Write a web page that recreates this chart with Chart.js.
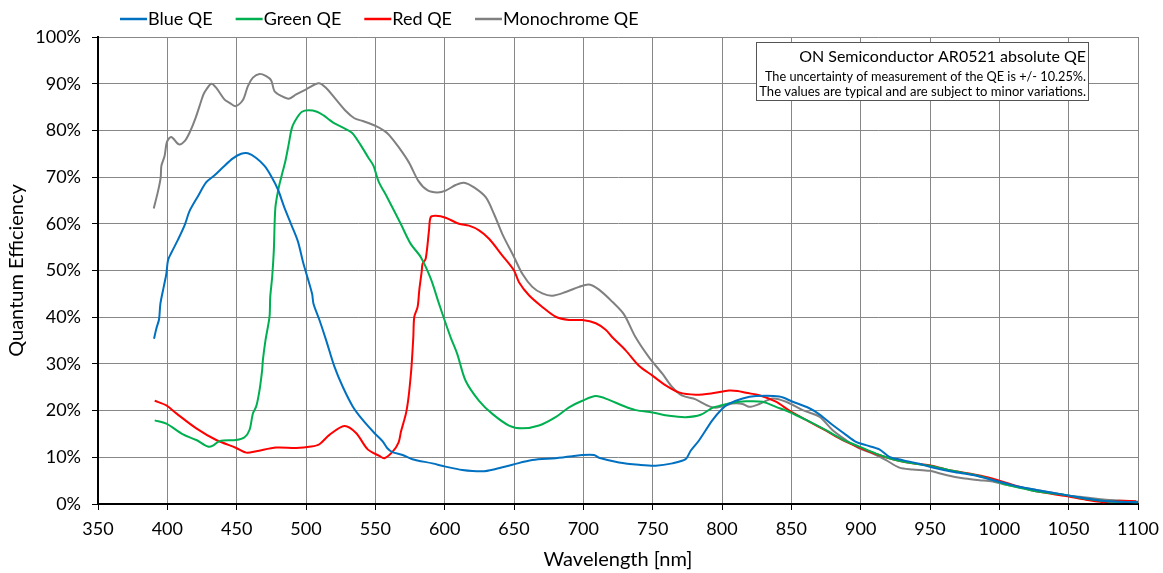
<!DOCTYPE html>
<html><head><meta charset="utf-8">
<script src="https://cdn.jsdelivr.net/npm/chart.js@4.4.1/dist/chart.umd.min.js"></script>
<style>html,body{margin:0;padding:0;background:#fff}#wrap{position:relative;width:1163px;height:573px}</style>
</head><body><div id="wrap"><canvas id="c" width="1163" height="573"></canvas></div>
<script>
const xTicks = [350,400,450,500,550,600,650,700,750,800,850,900,950,1000,1050,1100];
const seriesNames = ['Blue QE','Green QE','Red QE','Monochrome QE'];
const seriesColors = ['#0070C0','#00B050','#FF0000','#808080'];

const blueNm = [390.4,392.1,394,395,397.4,399.3,400.5,402.9,407.7,412.5,416,422.1,428.1,434.1,440.1,447.3,453.3,458.1,464.1,470.1,474.9,479.7,484.5,489.3,494.1,497.7,499.6,504.4,505.4,509.7,514.5,520.5,526.5,533.7,540.9,549.3,555.3,558.5,562.3,569.7,576.7,591.1,600.7,612.7,627.2,636.8,648.8,663.2,680,692,699.3,707.7,711.3,725.7,740.1,752.2,764.2,773.8,777.4,783.4,793,800.2,805.3,814.9,824.5,841.3,851,863,870.2,879.8,889.4,896.6,903.8,913.5,920.7,930.3,942.3,951.9,966.3,980.8,990.4,1002.4,1014.4,1028.8,1048.1,1062.5,1074.5,1086.5,1100];
const blueQE = [35.4,37.6,39.5,42.9,46.5,49.3,52.2,53.8,56.6,59.7,62.7,65.9,68.9,70.4,72.1,74,75,75.1,74.1,72.4,70.2,67.4,63.4,59.9,56.3,52,50,45,42.9,39.4,35.1,29.4,25.1,20.9,18,15.2,13.4,12,11.1,10.5,9.6,8.7,8,7.3,7,7.5,8.4,9.4,9.8,10.2,10.5,10.5,9.9,8.9,8.4,8.2,8.7,9.6,11.4,13.6,17.9,20.4,21.5,22.6,23.1,23,21.9,20.5,19.2,16.9,14.8,13.3,12.6,11.7,10.1,9.4,8.6,7.8,6.9,6.2,5.5,4.6,3.7,2.9,1.9,1.2,0.7,0.5,0.4];

const greenNm = [390.9,399.3,411.3,420.9,429.3,432.9,437.7,449.7,455.7,459.3,461.7,464.1,466.5,468.4,468.9,470.8,473.7,474.2,475.6,476.8,477.9,480.3,482.7,485.1,487.5,489.9,493.5,497.1,501.9,507.9,512.7,516.3,519.9,525.9,533.1,539.1,545.1,548.7,552.3,558.5,568.3,575.5,582.7,589.9,595.9,600.7,604.3,609.1,615.1,624.8,634.4,646.4,656,668,680,689.7,699.3,709,718.5,728.1,737.7,749.8,761.8,773.8,784.6,793,798,807.7,817.3,829.3,838.9,848.6,860.6,875,887,899,911.1,923.1,937.5,949.5,966.3,980.8,990.4,1002.4,1014.4,1028.8,1048.1,1062.5,1077,1100];
const greenQE = [17.9,17.2,14.9,13.7,12.3,12.5,13.5,13.7,14.3,15.9,19.4,20.9,24.4,28.7,30.8,35.1,40.1,44.3,48.6,54.3,63.4,67.7,70.6,73.4,77,80.6,82.7,84,84.3,84,83.2,82.4,81.6,80.7,79.5,77,74.1,72.4,69.1,65.7,60,55.7,52.9,48.3,42.9,38.7,35.7,32.1,26.4,22.1,19.3,16.8,16.2,16.8,18.6,20.7,22.1,23.1,22.3,21.1,20.1,19.6,18.9,18.6,19.1,20.6,21,21.7,22,21.9,20.8,19.7,18,15.8,13.8,12.3,10.8,9.6,8.7,8.2,7.1,6.3,5.6,4.4,3.5,2.6,1.9,1.1,0.6,0.4];

const redNm = [390.9,399.3,406.5,420.9,435.3,449.7,456.9,464.1,478.5,492.9,503.7,509.7,516.9,527.7,536.1,544.5,552.9,556.5,562.5,566.8,568.5,572.1,574,575.7,576.4,577.4,578.1,580.5,581.7,583.4,584.1,586.3,588.7,589.9,593.5,600.7,610.3,617.5,624.8,632,641.6,650,653.6,660.8,670.4,680,689.7,699.3,709,716.1,720.9,730.5,740.1,749.8,759.4,769,781,793,805,811.3,817.3,826.9,838.9,848.6,860.6,875,887,899,911.1,923.1,937.5,949.5,966.3,980.8,990.4,1000,1014.4,1028.8,1048.1,1062.5,1074.5,1086.5,1098.6];
const redQE = [22.1,21.1,19.4,16.2,13.7,12,11,11.3,12.1,12,12.3,12.8,14.8,16.7,15.2,11.7,10.3,9.8,11.2,13.2,15.5,19.4,23,28,30.8,35.8,40.1,42.2,45.8,49.7,51.5,52.5,58.6,61.4,61.7,61.3,60,59.6,58.6,56.8,53.2,50,47.5,44.7,42.2,40.1,39.4,39.4,38.7,37.3,35.7,32.9,29.6,27.5,25.4,23.9,23.4,23.7,24.3,24.2,23.8,23.3,21.9,20,18,15.7,13.7,12.1,10.7,9.6,8.7,8.3,7.1,6.4,5.8,5,3.7,2.6,1.7,0.9,0.4,0.7,0.6];

const monoNm = [390.2,393.3,395.2,395.7,398,399.8,402.9,408.4,412.5,416,420.4,425.2,426.9,431.7,435.3,441.3,444.9,449.2,454.5,458.1,461.7,466.5,471.3,474.9,477.3,482.1,487.6,492.9,500.1,509.2,514.5,521.7,528.9,534.9,540.9,550.5,556.5,560,567.1,574.3,581,587.5,594.7,600.7,607.9,613.9,621.2,629.6,635.6,641.6,650,656,663.2,670.4,677.6,687.3,696.9,704.1,711.3,720.9,729.3,737.7,747.4,757,764.2,771.4,781,789.4,795.4,807.7,814.9,819.7,826.9,836.5,846.2,858.2,870.2,879.8,889.4,899,908.7,918.3,927.9,937.5,949.5,961.5,973.6,985.6,995.2,1004.8,1014.4,1028.8,1048.1,1062.5,1077,1100];
const monoQE = [63.3,67,69.9,72.4,74.5,77.6,78.6,77,77.7,79.5,82.7,87,88.2,90,89.1,86.6,85.9,85.2,86.5,89.5,91.3,92.1,91.6,90.7,88.4,87.4,86.8,87.7,88.8,90.1,89.1,86.6,84.1,82.6,82,80.9,79.9,79,76.3,73.1,69.2,67.2,66.7,67.1,68.3,68.8,67.8,65.7,62.1,57.8,52.9,49.3,46.5,45.1,44.6,45.4,46.5,47,45.9,43.3,40.6,35.7,31.4,27.9,25,23.2,22.4,21.1,20.6,21.5,21.4,20.8,21.4,22.6,21.9,20.1,18.7,15.8,13.7,11.9,10.8,9.4,7.8,7.4,7.1,6.2,5.5,5.1,4.8,4.1,3.6,2.9,1.9,1.4,0.9,0.5];

const noteTitle = 'ON Semiconductor AR0521 absolute QE';
const noteLines = ['The uncertainty of measurement of the QE is +/- 10.25%.','The values are typical and are subject to minor variations.'];

function pts(xs, ys){ return xs.map((x,i)=>({x:x, y:ys[i]})); }
const allNm = [blueNm, greenNm, redNm, monoNm];
const allQE = [blueQE, greenQE, redQE, monoQE];

const FONT = 'Lato, "Open Sans", sans-serif';
Chart.defaults.font.family = FONT;
Chart.defaults.color = '#000';

function fitFont(ctx, text, target, base){
  ctx.font = base + 'px ' + FONT;
  const w = ctx.measureText(text).width;
  const size = base * target / w;
  ctx.font = size.toFixed(2) + 'px ' + FONT;
}

const overlay = {
  id: 'overlay',
  afterDraw(chart){
    const ctx = chart.ctx;
    ctx.save();
    // legend
    ctx.font = '18px ' + FONT;
    ctx.textBaseline = 'middle';
    ctx.textAlign = 'left';
    let x = 120; const y = 19;
    chart.data.datasets.forEach(ds => {
      ctx.strokeStyle = ds.borderColor; ctx.lineWidth = 2.5;
      ctx.beginPath(); ctx.moveTo(x, y); ctx.lineTo(x+27, y); ctx.stroke();
      x += 28;
      ctx.fillStyle = '#000';
      ctx.fillText(ds.label, x, y);
      x += ctx.measureText(ds.label).width + 23;
    });
    // note box
    const bx = 756.5, by = 42.5, bw = 332, bh = 58;
    ctx.fillStyle = '#fff';
    ctx.fillRect(bx, by, bw, bh);
    ctx.strokeStyle = '#555'; ctx.lineWidth = 1;
    ctx.strokeRect(bx, by, bw, bh);
    ctx.fillStyle = '#000';
    ctx.textAlign = 'right';
    ctx.textBaseline = 'alphabetic';
    fitFont(ctx, noteTitle, 287, 16);
    ctx.fillText(noteTitle, 1086, 62);
    fitFont(ctx, noteLines[0], 321, 13);
    ctx.fillText(noteLines[0], 1086, 81);
    fitFont(ctx, noteLines[1], 327, 13);
    ctx.fillText(noteLines[1], 1086, 96);
    ctx.restore();
  }
};

new Chart(document.getElementById('c'), {
  type: 'line',
  data: {
    datasets: seriesNames.map((n,i)=>({
      label: n,
      data: pts(allNm[i], allQE[i]),
      borderColor: seriesColors[i],
      backgroundColor: seriesColors[i],
      borderWidth: 2,
      pointRadius: 0,
      tension: 0.3,
      fill: false
    }))
  },
  options: {
    responsive: false,
    animation: false,
    layout: { padding: { top: 37, right: 25, bottom: 0, left: 0 } },
    plugins: { legend: { display: false }, tooltip: { enabled: false } },
    scales: {
      x: {
        type: 'linear', min: 350, max: 1100,
        afterBuildTicks(s){ s.ticks = xTicks.map(v=>({value:v})); },
        ticks: { font: { size: 18 }, padding: 8, maxRotation: 0, autoSkip: false, color: '#000', callback: v => String(v) },
        grid: { color: '#878787', lineWidth: 1, tickLength: 6, tickColor: '#000' },
        border: { display: true, color: '#000', width: 2 },
        title: { display: true, text: 'Wavelength [nm]', font: { size: 20 }, color: '#000', padding: { top: 0, bottom: 1 } },
        afterFit(s){ s.height = 573 - 504; s.paddingRight = 0; s.paddingLeft = 0; }
      },
      y: {
        min: 0, max: 100,
        ticks: { stepSize: 10, font: { size: 18 }, padding: 11, color: '#000', callback: v => v + '%' },
        grid: { color: '#878787', lineWidth: 1, tickLength: 6, tickColor: '#000' },
        border: { display: true, color: '#000', width: 2 },
        title: { display: true, text: 'Quantum Efficiency', font: { size: 20 }, color: '#000', padding: { top: 5, bottom: 0 } },
        afterFit(s){ s.width = 98; s.paddingTop = 0; s.paddingBottom = 0; }
      }
    }
  },
  plugins: [overlay]
});
</script></body></html>
